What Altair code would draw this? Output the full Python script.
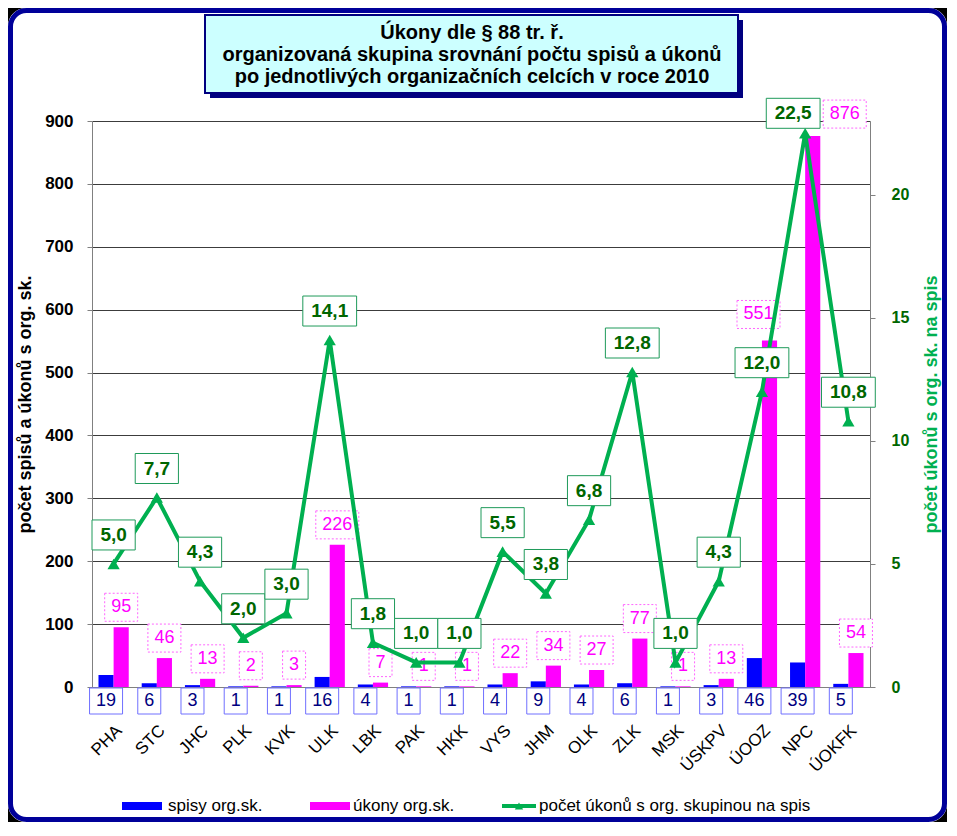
import altair as alt
import pandas as pd

FONT = "Liberation Sans"

# ---------------- data ----------------
categories = ["PHA", "STC", "JHC", "PLK", "KVK", "ULK", "LBK", "PAK", "HKK", "VYS",
              "JHM", "OLK", "ZLK", "MSK", "ÚSKPV", "ÚOOZ", "NPC", "ÚOKFK"]
spisy = [19, 6, 3, 1, 1, 16, 4, 1, 1, 4, 9, 4, 6, 1, 3, 46, 39, 5]
ukony = [95, 46, 13, 2, 3, 226, 7, 1, 1, 22, 34, 27, 77, 1, 13, 551, 876, 54]
ratio = [5.0, 7.7, 4.3, 2.0, 3.0, 14.1, 1.8, 1.0, 1.0, 5.5, 3.8, 6.8, 12.8, 1.0, 4.3, 12.0, 22.5, 10.8]
left_ticks = [0, 100, 200, 300, 400, 500, 600, 700, 800, 900]
right_ticks = [0, 5, 10, 15, 20]
series_names = ["spisy org.sk.", "úkony org.sk.", "počet úkonů s org. skupinou na spis"]
title_lines = ["Úkony dle § 88 tr. ř.",
               "organizovaná skupina srovnání počtu spisů a úkonů",
               "po jednotlivých organizačních celcích v roce 2010"]
left_title = "počet spisů a úkonů s org. sk."
right_title = "počet úkonů s org. sk. na spis"

# ---------------- layout / style ----------------
W, H = 778, 566
PL, PT, PR, PB = 84, 113, 77, 135
S_SP, S_UK, S_RT = series_names
C_SP, C_UK, C_RT = "#0000FF", "#FF00FF", "#00B050"

# label nudges (pixels) where the original moved labels to avoid overlaps
NUDGE = {("NPC", S_UK): (32, -22), ("ÚOOZ", S_UK): (-11, -26), ("NPC", S_RT): (-12, -20)}
DEFAULT_OFF = {S_UK: (0, -20), S_RT: (0, -29)}

x_scale = alt.Scale(domain=categories, paddingInner=0.3, paddingOuter=0.15)
x_axis = alt.Axis(labelAngle=-45, labelAlign="right", labelBaseline="top",
                  labelFont=FONT, labelFontSize=17, labelColor="black",
                  ticks=False, labelPadding=35, domainColor="#808080", grid=False,
                  labelOverlap=False)


def X():
    return alt.X("cat:N", scale=x_scale, axis=x_axis, title=None)


xoff = alt.XOffset("series:N", scale=alt.Scale(domain=[S_SP, S_UK]))

yl_scale = alt.Scale(domain=[0, 900], nice=False)
yl_axis = alt.Axis(values=left_ticks, grid=True, gridColor="#3c3c3c", gridWidth=1,
                   domainColor="#808080", tickColor="#808080", tickSize=5,
                   labelFont=FONT, labelFontSize=17, labelFontWeight="bold", labelColor="black",
                   labelPadding=14, titleFont=FONT, titleFontSize=18, titleFontWeight="bold",
                   titleColor="black", titlePadding=10, orient="left")
yr_scale = alt.Scale(domain=[0, 23], nice=False)
yr_axis = alt.Axis(values=right_ticks, grid=False, domainColor="#808080", tickColor="#808080",
                   tickSize=5, labelFont=FONT, labelFontSize=16, labelFontWeight="bold",
                   labelColor="#006600", labelPadding=16, titleFont=FONT, titleFontSize=18,
                   titleFontWeight="bold", titleColor=C_RT, titlePadding=14,
                   titleAngle=270, titleBaseline="top", orient="right")


def YL(field):
    return alt.Y(f"{field}:Q", scale=yl_scale, axis=yl_axis, title=left_title)


def YR(field):
    return alt.Y(f"{field}:Q", scale=yr_scale, axis=yr_axis, title=right_title)


def rect_path(w, h, dx, dy):
    hw, hh = w / 2.0, h / 2.0
    return (f"M{dx - hw},{dy - hh}L{dx + hw},{dy - hh}"
            f"L{dx + hw},{dy + hh}L{dx - hw},{dy + hh}Z")


def boxed(df, yenc, dx, dy, wfun, h, stroke, dash, tcolor, weight, fsize, use_xoff=True):
    df = df.copy()
    df["path"] = [rect_path(wfun(len(t)), h, dx, dy) for t in df["label"]]
    enc = dict(x=X(), y=yenc)
    if use_xoff:
        enc["xOffset"] = xoff
    mk = dict(filled=True, fill="white", stroke=stroke, strokeWidth=1, opacity=1, size=4)
    if dash:
        mk["strokeDash"] = dash
    box = alt.Chart(df).mark_point(**mk).encode(
        shape=alt.Shape("path:N", scale=None, legend=None), **enc)
    txt = alt.Chart(df).mark_text(dx=dx, dy=dy, font=FONT, fontSize=fsize, fontWeight=weight,
                                  color=tcolor, align="center", baseline="middle").encode(
        text="label:N", **enc)
    return [box, txt]


def grouped_boxed(df, series, yenc, **kw):
    layers = []
    offs = [NUDGE.get((c, series), DEFAULT_OFF[series]) for c in df["cat"]]
    df = df.copy()
    df["off"] = offs
    for off in sorted(set(offs)):
        sub = df[df["off"] == off].drop(columns=["off"])
        layers += boxed(sub, yenc, off[0], off[1], **kw)
    return layers


sp_df = pd.DataFrame({"cat": categories, "series": S_SP, "value": spisy,
                      "label": [str(v) for v in spisy]})
uk_df = pd.DataFrame({"cat": categories, "series": S_UK, "value": ukony,
                      "label": [str(v) for v in ukony]})
rt_df = pd.DataFrame({"cat": categories, "ratio": ratio,
                      "label": [f"{v:.1f}".replace(".", ",") for v in ratio]})

# ---------------- left (bars) ----------------
bar_sp = alt.Chart(sp_df).mark_bar(color=C_SP).encode(x=X(), xOffset=xoff, y=YL("value"))
bar_uk = alt.Chart(uk_df).mark_bar(color=C_UK).encode(x=X(), xOffset=xoff, y=YL("value"))

blue_labels = boxed(sp_df, alt.value(H + 14), 0, 0, lambda n: 10 * n + 13, 26,
                    "#7070FF", None, "#000080", "normal", 18)
pink_labels = grouped_boxed(uk_df, S_UK, YL("value"), wfun=lambda n: 10 * n + 13, h=28,
                            stroke="#FF66FF", dash=[2, 2], tcolor="#FF00FF", weight="normal",
                            fsize=18)

left = alt.layer(bar_sp, bar_uk, *blue_labels, *pink_labels)

# ---------------- right (line) ----------------
line = alt.Chart(rt_df).mark_line(color=C_RT, strokeWidth=4).encode(x=X(), y=YR("ratio"))
pts = alt.Chart(rt_df).mark_point(shape="triangle-up", filled=True, size=150, color=C_RT,
                                  opacity=1).encode(x=X(), y=YR("ratio"))
green_labels = grouped_boxed(rt_df, S_RT, YR("ratio"),
                             wfun=lambda n: 10.6 * (n - 1) + 22, h=30,
                             stroke="#1F9A5A", dash=None, tcolor="#006600", weight="bold",
                             fsize=19, use_xoff=False)
right = alt.layer(line, pts, *green_labels)

# ---------------- decorations ----------------
one = pd.DataFrame({"k": [0]})
corners = alt.Chart(one).mark_rect(fillOpacity=0, stroke="black", strokeWidth=20,
                                   cornerRadius=28).encode(
    x=alt.value(-PL - 10), x2=alt.value(W + PR + 10),
    y=alt.value(-PT - 10), y2=alt.value(H + PB + 10))
frame = alt.Chart(one).mark_rect(fillOpacity=0, stroke="#000099", strokeWidth=5,
                                 cornerRadius=16).encode(
    x=alt.value(-PL + 2.5), x2=alt.value(W + PR - 2.5),
    y=alt.value(-PT + 2.5), y2=alt.value(H + PB - 2.5))
tshadow = alt.Chart(one).mark_rect(fill="#000080").encode(
    x=alt.value(118), x2=alt.value(651), y=alt.value(-101), y2=alt.value(-23))
tbox = alt.Chart(one).mark_rect(fill="#CCFFFF", stroke="#000080", strokeWidth=2).encode(
    x=alt.value(113), x2=alt.value(646), y=alt.value(-106), y2=alt.value(-28))
ttexts = [
    alt.Chart(one).mark_text(text=line_txt, font=FONT, fontSize=20, fontWeight="bold",
                             color="black", align="center", baseline="middle").encode(
        x=alt.value(380), y=alt.value(-88 + 22 * i))
    for i, line_txt in enumerate(title_lines)
]

# ---------------- legend (drawn below the plot) ----------------
LY = H + 119
LFS = 17
leg_layers = []
for name, color, x0, tx in [(S_SP, C_SP, 30, 76), (S_UK, C_UK, 218, 261)]:
    leg_layers.append(alt.Chart(one).mark_rect(color=color).encode(
        x=alt.value(x0), x2=alt.value(x0 + 40), y=alt.value(LY - 4), y2=alt.value(LY + 4)))
    leg_layers.append(alt.Chart(one).mark_text(text=name, font=FONT, fontSize=LFS,
                                               color="black", align="left",
                                               baseline="middle").encode(
        x=alt.value(tx), y=alt.value(LY)))
leg_layers.append(alt.Chart(one).mark_rect(color=C_RT).encode(
    x=alt.value(410), x2=alt.value(444), y=alt.value(LY - 2), y2=alt.value(LY + 2)))
leg_layers.append(alt.Chart(one).mark_point(shape="triangle-up", filled=True, size=70,
                                            color=C_RT, opacity=1).encode(
    x=alt.value(427), y=alt.value(LY)))
leg_layers.append(alt.Chart(one).mark_text(text=S_RT, font=FONT, fontSize=LFS, color="black",
                                           align="left", baseline="middle").encode(
    x=alt.value(447), y=alt.value(LY)))

chart = alt.layer(
    corners, frame, tshadow, tbox, *ttexts, left, right, *leg_layers
).resolve_scale(y="independent").properties(
    width=W, height=H,
    autosize=alt.AutoSizeParams(type="none"),
    padding={"left": PL, "top": PT, "right": PR, "bottom": PB},
).configure(background="white").configure_view(stroke=None)

chart.save("out.html", embed_options={"renderer": "svg", "actions": False})
